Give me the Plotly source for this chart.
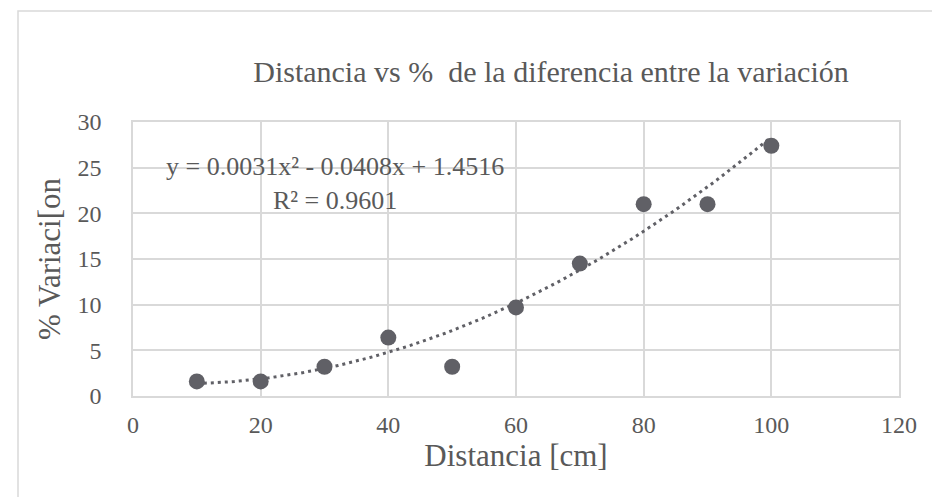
import numpy as np
import plotly.graph_objects as go

# Data
distancia = [10, 20, 30, 40, 50, 60, 70, 80, 90, 100]
variacion = [1.6, 1.6, 3.2, 6.4, 3.2, 9.7, 14.5, 21.0, 21.0, 27.4]
# Trendline coefficients (shown on the chart)
coef_a, coef_b, coef_c = 0.0031, -0.0408, 1.4516
x_ticks = [0, 20, 40, 60, 80, 100, 120]
y_ticks = [0, 5, 10, 15, 20, 25, 30]

title_text = "Distancia vs %  de la diferencia entre la variación"
x_title = "Distancia [cm]"
y_title = "% Variaci[on"
eq_text = "y = 0.0031x² - 0.0408x + 1.4516<br>R² = 0.9601"

W, H = 940, 497
L, R, T, B = 125, 49, 114, 109
pw, ph = W - L - R, H - T - B

def px_x(p):
    return (p - L) / pw

def px_y(p):
    return (H - B - p) / ph

gray = "#595959"
mark = "#606066"
grid = "#d9d9d9"

xt = np.linspace(min(distancia), max(distancia), 200)
yt = coef_a * xt**2 + coef_b * xt + coef_c

fig = go.Figure()
fig.add_trace(go.Scatter(x=xt, y=yt, mode="lines",
                         line=dict(color=mark, width=3, dash="3px,4px"),
                         hoverinfo="skip", showlegend=False))
fig.add_trace(go.Scatter(x=distancia, y=variacion, mode="markers",
                         marker=dict(color=mark, size=16),
                         showlegend=False))

serif = "Liberation Serif, DejaVu Serif, serif"
num_font = dict(family=serif, size=24, color=gray)

fig.update_layout(
    width=W, height=H,
    margin=dict(l=L, r=R, t=T, b=B),
    paper_bgcolor="white", plot_bgcolor="white",
    title=dict(text=title_text, x=px_x(543), xref="paper", xanchor="center",
               y=1 - 63 / H, yref="container", yanchor="middle",
               font=dict(family=serif, size=30, color=gray)),
    xaxis=dict(range=[0, 120], tickvals=x_ticks, showgrid=True, gridcolor=grid,
               gridwidth=1.5, zeroline=False, showline=True, linecolor=grid,
               linewidth=1.5, mirror=True, tickfont=num_font,
               ticks="", ticklabelstandoff=6,
               title=dict(text=x_title, standoff=8,
                          font=dict(family=serif, size=31, color=gray))),
    yaxis=dict(range=[0, 30], tickvals=y_ticks, showgrid=True, gridcolor=grid,
               gridwidth=1.5, zeroline=False, showline=True, linecolor=grid,
               linewidth=1.5, mirror=True, tickfont=num_font,
               ticks="", ticklabelstandoff=25,
               title=dict(text=y_title, standoff=8,
                          font=dict(family=serif, size=31, color=gray))),
    shapes=[dict(type="rect", xref="paper", yref="paper",
                 x0=px_x(10), x1=px_x(960), y0=px_y(520), y1=px_y(3),
                 line=dict(color=grid, width=1.5), layer="below")],
    annotations=[dict(text=eq_text, xref="paper", yref="paper",
                      x=px_x(327), y=px_y(175), xanchor="center", yanchor="middle",
                      showarrow=False, align="center",
                      font=dict(family=serif, size=26, color=gray))],
)

fig.write_html("out.html")
